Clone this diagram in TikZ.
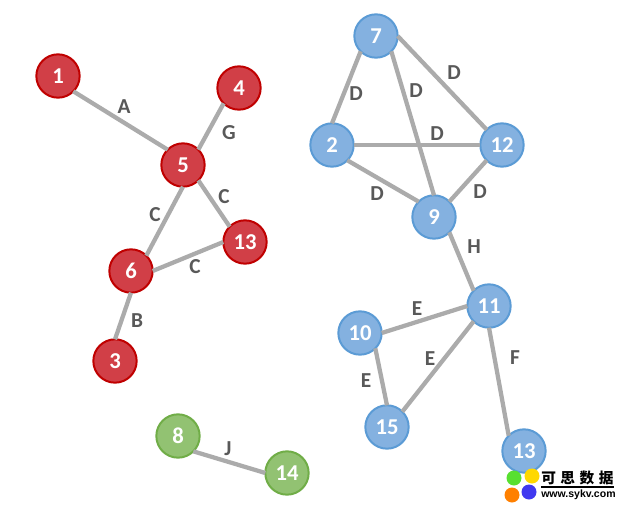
\documentclass[tikz,border=0pt]{standalone}
\usepackage{fontspec}
\setmainfont{Carlito}
\newfontfamily\cjk{Noto Sans CJK SC}
\newfontfamily\logofont{Liberation Sans}
\definecolor{redfill}{HTML}{D13F47}
\definecolor{redline}{HTML}{C00000}
\definecolor{bluefill}{HTML}{84B1E0}
\definecolor{blueline}{HTML}{5B9BD5}
\definecolor{greenfill}{HTML}{92C272}
\definecolor{greenline}{HTML}{70AD47}
\definecolor{edgegray}{HTML}{ABABAB}
\definecolor{labelgray}{HTML}{595959}
\definecolor{petalorange}{HTML}{FF8000}
\definecolor{petalblue}{HTML}{4038F0}
\definecolor{petalgreen}{HTML}{58E030}
\definecolor{petalyellow}{HTML}{FFD800}
\tikzset{
  x=0.75pt,y=-0.75pt,
  vertex/.style={circle,minimum size=32.5pt,inner sep=0pt,line width=1.5pt,outer sep=0pt,text=white,font=\bfseries\fontsize{17}{17}\selectfont},
  rednode/.style={vertex,fill=redfill,draw=redline},
  bluenode/.style={vertex,fill=bluefill,draw=blueline},
  greennode/.style={vertex,fill=greenfill,draw=greenline},
  edgeline/.style={draw=edgegray,line width=3.2pt},
  edgelabel/.style={text=labelgray,font=\bfseries\fontsize{16}{16}\selectfont,inner sep=0pt},
  petal/.style={circle,inner sep=0pt,minimum size=11.25pt},
}
\begin{document}
\begin{tikzpicture}
\useasboundingbox (0,0) rectangle (619,507);
\fill[white] (0,0) rectangle (619,507);
% nodes
\path
 node[rednode] (r1) at (58,76) {1}
 node[rednode] (r4) at (239,88) {4}
 node[rednode] (r5) at (183,165) {5}
 node[rednode] (r13) at (245,242) {13}
 node[rednode] (r6) at (131,271) {6}
 node[rednode] (r3) at (115,361) {3}
 node[bluenode] (b7) at (376,36) {7}
 node[bluenode] (b2) at (332,145) {2}
 node[bluenode] (b12) at (502,145) {12}
 node[bluenode] (b9) at (434,217) {9}
 node[bluenode] (b11) at (489,306) {11}
 node[bluenode] (b10) at (360,333) {10}
 node[bluenode] (b15) at (387,427) {15}
 node[bluenode] (b13) at (524,451) {13}
 node[greennode] (g8) at (178,436) {8}
 node[greennode] (g14) at (287,473) {14};
% edges
\draw[edgeline] (r1.-45) -- (r5.135);
\draw[edgeline] (r4.225) -- (r5.45);
\draw[edgeline] (r5.-45) -- (r13.135);
\draw[edgeline] (r5.south) -- (r6.45);
\draw[edgeline] (r6.east) -- (r13.west);
\draw[edgeline] (r6.south) -- (r3.north);
\draw[edgeline] (b7.225) -- (b2.north);
\draw[edgeline] (b7.-45) -- (b9.north);
\draw[edgeline] (b7.east) -- (b12.135);
\draw[edgeline] (b2.east) -- (b12.west);
\draw[edgeline] (b2.-45) -- (b9.135);
\draw[edgeline] (b12.225) -- (b9.45);
\draw[edgeline] (b9.-45) -- (b11.135);
\draw[edgeline] (b10.east) -- (b11.west);
\draw[edgeline] (b10.-45) -- (b15.north);
\draw[edgeline] (b11.225) -- (b15.45);
\draw[edgeline] (b11.south) -- (b13.135);
\draw[edgeline] (g8.-45) -- (g14.west);
% labels
\path
 node[edgelabel] (la) at (124,107) {A}
 node[edgelabel] (lg) at (229,133) {G}
 node[edgelabel] (lc1) at (224,197) {C}
 node[edgelabel] (lc2) at (155,215) {C}
 node[edgelabel] (lc3) at (195,267) {C}
 node[edgelabel] (lb) at (137,321) {B}
 node[edgelabel] (ld1) at (356,94) {D}
 node[edgelabel] (ld2) at (416,91) {D}
 node[edgelabel] (ld3) at (454,73) {D}
 node[edgelabel] (ld4) at (437,134) {D}
 node[edgelabel] (ld5) at (377,194) {D}
 node[edgelabel] (ld6) at (480,192) {D}
 node[edgelabel] (lh) at (474,247) {H}
 node[edgelabel] (le1) at (417,309) {E}
 node[edgelabel] (le2) at (430,359) {E}
 node[edgelabel] (le3) at (366,381) {E}
 node[edgelabel] (lf) at (515,358) {F}
 node[edgelabel] (lj) at (228,449) {J};
% logo
\path
 node[petal,fill=petalorange] (p1) at (512,495) {}
 node[petal,fill=petalblue] (p2) at (529,492) {}
 node[petal,fill=petalgreen] (p3) at (514,478) {}
 node[petal,fill=petalyellow] (p4) at (532,476) {}
 node[inner sep=0pt,anchor=west,font=\cjk\bfseries\fontsize{11}{11}\selectfont] (lt) at (541,478) {可\hspace{3.4pt}思\hspace{3.4pt}数\hspace{3.4pt}据}
 node[inner sep=0pt,anchor=west,font=\logofont\bfseries\fontsize{7.9}{9}\selectfont] (lw) at (541,495) {www.sykv.com};
\draw[line width=1.5pt] (541,486.5) -- (614,486.5);
\end{tikzpicture}
\end{document}
